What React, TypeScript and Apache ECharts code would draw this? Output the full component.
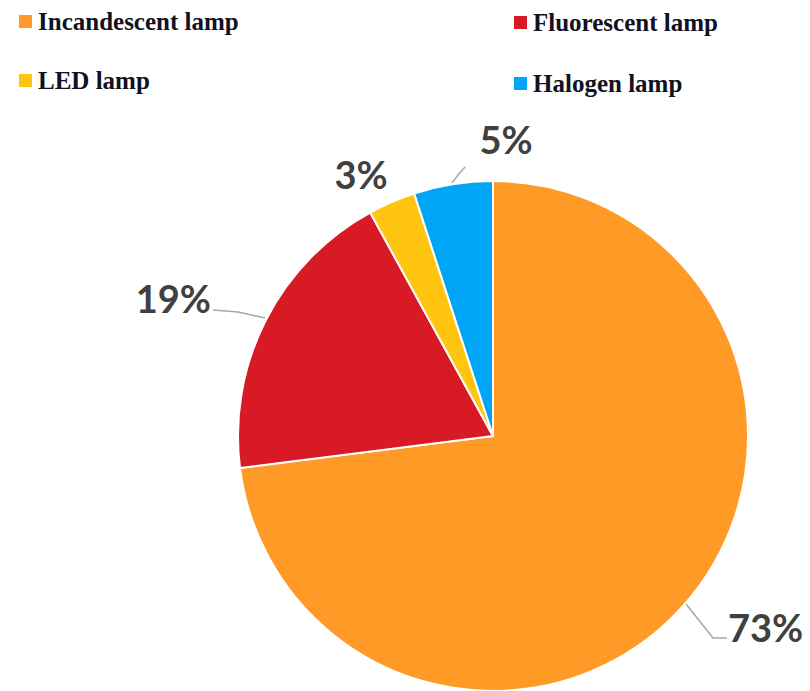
import React, { useEffect, useRef } from "react";
import * as echarts from "echarts";

const categories = ["Incandescent lamp", "Fluorescent lamp", "LED lamp", "Halogen lamp"];
const shares = [73, 19, 3, 5];
const colors = ["#FF9A27", "#D71A23", "#FFC511", "#00A6F5"];

// label placement (text anchor + leader line) for each slice
const labelPlacement = [
  { x: 728, y: 627, align: "left", line: [[686, 604], [713, 638], [727, 638]] },
  { x: 211, y: 298, align: "right", line: [[265, 318], [238, 312], [213, 310]] },
  { x: 361, y: 174, align: "center", line: null },
  { x: 506, y: 139, align: "center", line: [[452, 183], [458, 175], [465, 167]] },
];

export default function App() {
  const ref = useRef<HTMLDivElement>(null);
  useEffect(() => {
    document.body.style.margin = "0";
    const chart = echarts.init(ref.current!, undefined, { renderer: "svg" });
    const legendText = {
      fontFamily: "Liberation Serif",
      fontWeight: "bold",
      fontSize: 25,
      color: "#111122",
    };
    chart.setOption({
      animation: false,
      color: colors,
      legend: [
        {
          data: [categories[0], categories[2]],
          orient: "vertical",
          left: 12,
          top: 4,
          itemGap: 34,
          itemWidth: 15,
          itemHeight: 15,
          icon: "rect",
          textStyle: legendText,
          selectedMode: false,
        },
        {
          data: [categories[1], categories[3]],
          orient: "vertical",
          left: 507,
          top: 5,
          itemGap: 36,
          itemWidth: 15,
          itemHeight: 15,
          icon: "rect",
          textStyle: legendText,
          selectedMode: false,
        },
      ],
      series: [
        {
          type: "pie",
          center: [493, 436],
          radius: 255,
          startAngle: 90,
          clockwise: true,
          itemStyle: { borderColor: "#ffffff", borderWidth: 2 },
          data: categories.map((c, i) => ({
            name: c,
            value: shares[i],
            labelLine: { show: labelPlacement[i].line !== null },
          })),
          label: {
            show: true,
            formatter: "{c}%",
            fontFamily: "Lato",
            fontWeight: "bold",
            fontSize: 38,
            color: "#404040",
            overflow: "none",
          },
          labelLine: {
            show: true,
            lineStyle: { color: "#a6a6a6", width: 1.5 },
          },
          labelLayout: (params: any) => {
            const p = labelPlacement[params.dataIndex];
            const out: any = {
              x: p.x,
              y: p.y,
              align: p.align,
              verticalAlign: "middle",
              width: 120,
            };
            if (p.line) out.labelLinePoints = p.line;
            return out;
          },
          emphasis: { disabled: true },
        },
      ],
    });
    return () => chart.dispose();
  }, []);
  return <div ref={ref} style={{ width: 810, height: 691 }} />;
}
